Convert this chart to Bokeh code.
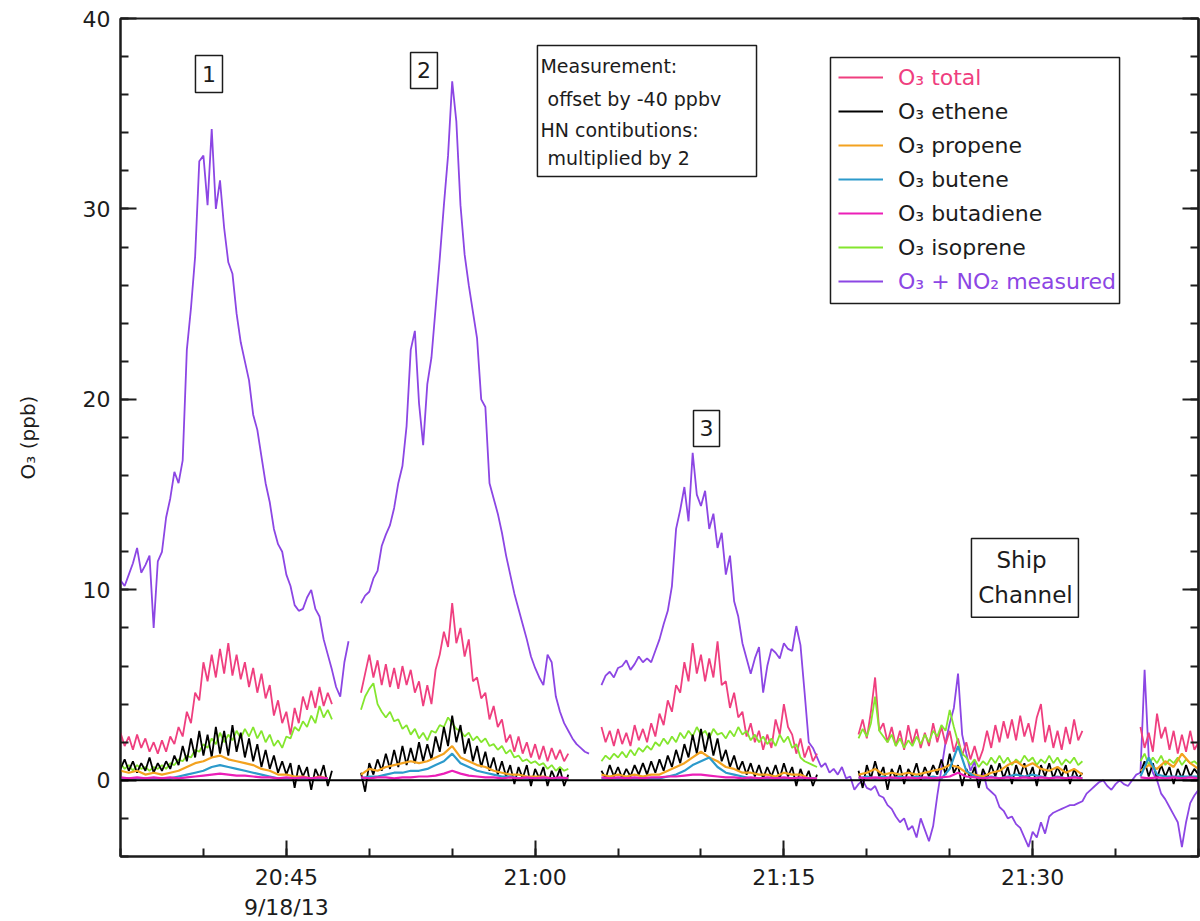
from datetime import datetime
from bokeh.plotting import figure
from bokeh.models import (Range1d, LinearAxis, FixedTicker, Legend, LegendItem,
                          BoxAnnotation, Label, Span)
from bokeh.embed import file_html
from bokeh.resources import INLINE

NaN = float("nan")

# ---------------- data ----------------
sample_start = datetime(2013, 9, 18, 20, 35, 0)
fast_step_s = 15     # O3+NO2 measured, O3 total, ethene, isoprene
slow_step_s = 30     # propene, butene, butadiene

# O3 + NO2 measured (offset by -40 ppbv), 15 s samples
o3_meas = ([10.5, 10.2, 10.8, 11.4, 12.2, 10.9, 11.3, 11.8, 8.0, 11.5, 12.0, 13.8, 14.8, 16.2,
            15.6, 16.8, 22.6, 24.8, 27.5, 32.5, 32.8, 30.2, 34.2, 30.0, 31.5, 29.0, 27.2, 26.6,
            24.5, 23.0, 22.0, 21.0, 19.2, 18.4, 17.0, 15.6, 14.6, 13.2, 12.4, 12.0, 10.8, 10.2,
            9.2, 8.9, 9.0, 9.6, 10.0, 9.0, 8.6, 7.4, 6.6, 5.8, 4.9, 4.4, 6.2, 7.3]
           + [NaN] * 2
           + [9.3, 9.7, 9.9, 10.6, 11.0, 12.3, 12.9, 13.4, 14.3, 15.6, 16.5, 18.6, 22.6, 23.6,
              19.8, 17.6, 20.8, 22.2, 24.8, 27.4, 30.2, 32.8, 36.7, 34.6, 30.2, 27.6, 26.0, 24.6,
              23.2, 20.0, 19.6, 15.6, 14.8, 14.0, 13.0, 11.8, 10.8, 9.8, 9.0, 8.2, 7.4, 6.5, 5.9,
              5.4, 5.0, 6.6, 6.2, 4.4, 3.6, 3.0, 2.6, 2.2, 1.9, 1.7, 1.5, 1.4]
           + [NaN] * 2
           + [5.0, 5.5, 5.7, 5.4, 5.9, 6.0, 6.3, 5.8, 6.1, 6.5, 6.2, 6.4, 6.2, 6.8, 7.4, 8.2, 8.9,
              10.2, 13.2, 14.2, 15.4, 13.6, 17.2, 15.0, 14.4, 15.2, 13.2, 14.0, 12.2, 13.0, 10.8,
              11.8, 9.4, 8.6, 7.2, 6.4, 5.6, 6.4, 7.0, 4.6, 6.0, 6.9, 6.7, 6.4, 7.2, 6.9, 6.8,
              8.1, 7.1, 4.6, 2.0, 1.7, 1.2, 0.7, 0.9, 0.4, 0.6, 0.3, 0.7, 0.1, 0.2, -0.5, -0.2,
              0.0, -0.4, -0.5, -0.3, -0.8, -0.9, -1.3, -1.5, -1.9, -2.2, -2.0, -2.6, -2.4, -3.0,
              -2.0, -2.6, -3.2, -2.4, -0.8, 0.6, 2.0, 3.0, 3.8, 5.6, 2.4, 1.4, 0.5, 1.0, -0.3,
              0.5, -0.4, -0.6, -0.8, -1.4, -1.6, -2.0, -1.9, -2.3, -2.5, -3.0, -3.5, -2.7, -3.0,
              -2.2, -2.8, -1.9, -1.7, -1.6, -1.5, -1.4, -1.3, -1.3, -1.2, -1.1, -0.7, -0.5, -0.3,
              -0.1, 0.0, -0.3, -0.5, -0.2, 0.0, -0.2, -0.3, 0.0, 0.3, 0.4, 5.8, 1.2, 0.4, 0.0,
              -0.7, -1.0, -1.4, -1.8, -2.2, -3.5, -2.2, -1.2, -0.8, -0.5])

# HN contributions (multiplied by 2), 15 s samples
o3_total = ([2.5, 1.8, 2.3, 1.6, 2.4, 1.7, 2.2, 1.5, 2.0, 1.4, 2.1, 1.5, 2.3, 1.9, 2.8, 2.3, 3.6,
             3.0, 4.6, 4.2, 6.2, 5.2, 6.6, 5.4, 6.9, 5.6, 7.2, 5.5, 6.6, 5.3, 6.2, 4.9, 5.9, 4.6,
             5.6, 4.3, 5.0, 3.4, 4.2, 3.0, 3.6, 2.4, 3.8, 3.0, 4.4, 3.7, 4.7, 3.8, 4.9, 3.9, 4.6,
             4.0]
            + [NaN] * 6
            + [4.6, 5.6, 6.6, 5.4, 6.3, 5.0, 6.1, 4.9, 5.9, 4.8, 6.0, 5.0, 5.8, 4.6, 5.2, 3.9, 5.0,
               4.0, 5.8, 6.6, 7.8, 7.0, 9.3, 7.2, 8.0, 6.5, 7.4, 5.2, 5.4, 4.3, 4.6, 3.2, 3.9, 2.8,
               3.2, 2.0, 2.4, 1.5, 2.3, 1.4, 2.0, 1.2, 1.9, 1.1, 1.8, 1.0, 1.7, 1.1, 1.6, 1.0, 1.4]
            + [NaN] * 7
            + [2.8, 2.0, 2.6, 1.8, 2.7, 1.9, 2.5, 1.8, 2.9, 2.1, 2.7, 2.0, 3.0, 2.3, 3.5, 2.9, 4.2,
               3.6, 5.0, 4.6, 6.2, 5.2, 7.2, 5.6, 6.6, 5.2, 6.4, 5.4, 7.3, 5.0, 5.2, 3.8, 4.6, 3.3,
               3.6, 2.3, 3.0, 2.0, 2.6, 1.6, 2.4, 1.7, 3.2, 2.4, 4.0, 2.8, 2.4, 1.4, 2.2, 1.2, 1.8,
               1.0, 1.4]
            + [NaN] * 9
            + [2.4, 3.2, 2.2, 3.6, 5.4, 2.6, 3.0, 2.0, 2.8, 1.8, 2.6, 1.6, 2.9, 1.9, 2.7, 1.7, 2.5,
               1.8, 3.0, 2.0, 2.8, 1.9, 2.6, 1.5, 2.2, 1.3, 2.0, 1.1, 1.8, 1.0, 1.6, 2.6, 1.7, 2.9,
               2.0, 3.1, 2.2, 3.2, 2.1, 3.4, 2.3, 3.0, 2.0, 3.3, 4.0, 2.0, 2.9, 1.7, 2.6, 1.6, 2.8,
               1.9, 3.2, 2.1, 2.6]
            + [NaN] * 13
            + [2.8, 1.7, 2.5, 1.5, 3.5, 2.2, 2.8, 1.6, 2.6, 1.4, 2.4, 1.5, 2.6, 1.6, 2.0])

o3_ethene = ([0.6, 1.1, 0.5, 1.0, 0.4, 0.9, 0.5, 1.2, 0.4, 0.9, 0.5, 1.0, 0.6, 1.3, 0.8, 1.8, 1.0,
              2.2, 1.2, 2.6, 1.3, 2.4, 1.2, 2.8, 1.4, 2.6, 1.3, 2.9, 1.5, 2.5, 1.2, 2.2, 1.0, 1.9,
              0.7, 1.6, 0.6, 1.3, 0.4, 1.0, 0.3, 0.9, -0.4, 0.8, 0.2, 0.7, -0.5, 0.6, 0.1, 0.8,
              -0.3, 0.5]
             + [NaN] * 6
             + [0.4, -0.6, 0.9, 0.3, 1.1, 0.5, 1.4, 0.6, 1.6, 0.7, 1.8, 0.8, 1.7, 0.9, 2.0, 1.0,
                1.9, 1.1, 2.3, 1.5, 2.8, 1.8, 3.4, 2.0, 2.9, 1.4, 2.2, 1.0, 1.8, 0.7, 1.5, 0.5, 1.2,
                0.3, 1.0, 0.2, 0.8, -0.2, 0.7, 0.1, 0.8, -0.3, 0.6, 0.1, 0.7, -0.3, 0.5, 0.0, 0.6,
                -0.3, 0.3]
             + [NaN] * 7
             + [0.5, 0.1, 0.8, 0.2, 0.7, 0.1, 0.6, 0.2, 0.8, 0.3, 0.9, 0.3, 1.0, 0.4, 1.1, 0.5,
                1.3, 0.7, 1.6, 0.9, 1.9, 1.2, 2.4, 1.4, 2.7, 1.5, 2.5, 1.3, 2.2, 1.0, 1.6, 0.7, 1.3,
                0.5, 1.0, 0.3, 0.9, 0.2, 0.8, 0.1, 0.7, 0.2, 0.8, 0.1, 0.9, 0.2, 0.7, -0.3, 0.6,
                0.0, 0.5, -0.3, 0.3]
             + [NaN] * 9
             + [0.5, -0.4, 0.8, 0.1, 1.0, 0.2, 0.7, -0.5, 0.6, 0.1, 0.8, -0.2, 0.6, 0.2, 0.9, 0.0,
                0.7, 0.2, 0.8, 0.3, 1.1, 0.3, 1.4, 0.4, 0.8, -0.3, 0.6, 0.1, 0.7, -0.4, 0.6, 0.1,
                0.8, 0.2, 0.9, 0.1, 0.7, -0.2, 0.8, 0.2, 0.9, 0.1, 0.7, -0.3, 0.8, 0.2, 0.9, 0.1,
                0.7, 0.2, 0.8, -0.2, 0.6, 0.1, 0.4]
             + [NaN] * 13
             + [0.4, 1.0, 0.2, 0.9, 0.1, 0.8, 0.2, 0.7, -0.2, 0.6, 0.1, 0.8, 0.2, 0.6, 0.3])

o3_isoprene = ([0.9, 0.6, 0.8, 0.5, 0.8, 0.6, 0.7, 0.5, 0.7, 0.6, 0.8, 0.6, 0.9, 0.8, 1.1, 1.0,
                1.3, 1.2, 1.6, 1.5, 1.9, 1.7, 2.2, 1.9, 2.5, 2.0, 2.4, 2.1, 2.6, 2.2, 2.7, 2.3,
                2.8, 2.2, 2.6, 2.0, 2.4, 1.8, 2.1, 1.7, 2.3, 2.2, 2.8, 2.6, 3.1, 2.8, 3.4, 3.0,
                3.9, 3.3, 3.7, 3.2]
               + [NaN] * 6
               + [3.7, 4.4, 4.8, 5.1, 4.0, 3.6, 3.3, 3.6, 3.1, 3.2, 2.7, 2.9, 2.4, 2.7, 2.2, 2.5,
                  2.1, 2.6, 2.5, 2.9, 2.8, 3.3, 3.0, 2.7, 2.6, 2.3, 2.5, 2.1, 2.3, 2.0, 2.2, 1.8,
                  1.9, 1.6, 1.8, 1.4, 1.6, 1.2, 1.3, 1.0, 1.1, 0.9, 1.0, 0.8, 0.9, 0.6, 0.8, 0.5,
                  0.7, 0.5, 0.6]
               + [NaN] * 7
               + [1.0, 1.3, 1.1, 1.4, 1.2, 1.5, 1.2, 1.6, 1.3, 1.7, 1.5, 1.8, 1.6, 2.0, 1.8, 2.2,
                  1.9, 2.3, 2.0, 2.5, 2.2, 2.6, 2.3, 2.8, 2.4, 2.6, 2.2, 2.7, 2.4, 2.5, 2.2, 2.6,
                  2.3, 2.8, 2.4, 2.6, 2.1, 2.4, 2.0, 2.3, 1.9, 2.2, 1.8, 2.4, 2.0, 2.3, 1.7, 1.9,
                  1.2, 1.0, 0.9, 0.8, 0.7]
               + [NaN] * 9
               + [2.2, 2.7, 2.3, 3.0, 4.4, 2.6, 2.3, 2.0, 2.4, 1.8, 2.2, 1.7, 2.1, 1.8, 2.3, 1.9,
                  2.4, 2.0, 2.6, 2.3, 2.9, 2.6, 3.7, 2.8, 2.0, 1.4, 1.2, 0.8, 1.1, 0.7, 1.0, 0.8,
                  1.2, 0.9, 1.3, 0.9, 1.2, 0.8, 1.1, 0.9, 1.3, 1.0, 1.2, 0.8, 1.1, 0.9, 1.3, 0.9,
                  1.2, 0.8, 1.1, 0.9, 1.2, 0.8, 1.0]
               + [NaN] * 13
               + [1.0, 1.4, 0.8, 1.2, 0.9, 1.3, 0.8, 1.1, 0.9, 1.2, 0.8, 1.1, 0.9, 1.0, 0.8])

# 30 s samples
o3_propene = ([0.5, 0.4, 0.5, 0.3, 0.4, 0.3, 0.4, 0.5, 0.7, 0.9, 1.0, 1.2, 1.3, 1.1, 1.0, 0.9, 0.8,
               0.6, 0.5, 0.3, 0.3, 0.2, 0.2, 0.1, 0.2, 0.1]
              + [NaN] * 3
              + [0.3, 0.6, 0.5, 0.7, 0.8, 0.9, 1.0, 0.9, 1.0, 1.2, 1.4, 1.8, 1.2, 1.0, 0.8, 0.7,
                 0.5, 0.4, 0.3, 0.3, 0.2, 0.2, 0.2, 0.1, 0.1, 0.1]
              + [NaN] * 3
              + [0.3, 0.2, 0.3, 0.2, 0.3, 0.2, 0.3, 0.3, 0.5, 0.7, 0.9, 1.2, 1.5, 1.2, 1.0, 0.7,
                 0.6, 0.4, 0.4, 0.3, 0.3, 0.2, 0.4, 0.3, 0.3, 0.1, 0.1]
              + [NaN] * 4
              + [0.3, 0.4, 0.6, 0.3, 0.4, 0.3, 0.4, 0.3, 0.4, 0.5, 0.6, 0.8, 0.7, 0.4, 0.3, 0.2,
                 0.4, 0.5, 0.8, 1.0, 0.7, 0.9, 0.6, 0.5, 0.7, 0.4, 0.6, 0.3]
              + [NaN] * 6
              + [0.5, 0.8, 0.6, 1.0, 0.7, 1.4, 0.9, 0.6])

o3_butene = ([0.1, 0.1, 0.1, 0.1, 0.1, 0.1, 0.1, 0.2, 0.3, 0.4, 0.5, 0.7, 0.8, 0.7, 0.6, 0.5, 0.4,
              0.3, 0.2, 0.1, 0.1, 0.1, 0.1, 0.1, 0.1, 0.1]
             + [NaN] * 3
             + [0.1, 0.2, 0.2, 0.3, 0.4, 0.4, 0.5, 0.5, 0.6, 0.8, 1.0, 1.4, 0.9, 0.7, 0.5, 0.4,
                0.3, 0.2, 0.2, 0.1, 0.1, 0.1, 0.1, 0.1, 0.1, 0.1]
             + [NaN] * 3
             + [0.1, 0.1, 0.1, 0.1, 0.1, 0.1, 0.1, 0.1, 0.2, 0.3, 0.5, 0.8, 1.0, 1.2, 0.7, 0.4,
                0.3, 0.2, 0.1, 0.1, 0.1, 0.1, 0.1, 0.1, 0.1, 0.1, 0.1]
             + [NaN] * 4
             + [0.1, 0.2, 0.1, 0.2, 0.1, 0.2, 0.1, 0.2, 0.1, 0.2, 0.1, 0.6, 1.8, 0.5, 0.2, 0.1,
                0.2, 0.1, 0.2, 0.3, 0.2, 0.3, 0.2, 0.1, 0.2, 0.1, 0.2, 0.1]
             + [NaN] * 6
             + [0.2, 1.2, 0.3, 0.2, 0.2, 0.2, 0.2, 0.2])

o3_butadiene = ([0.15, 0.1, 0.15, 0.1, 0.15, 0.1, 0.15, 0.1, 0.15, 0.2, 0.25, 0.3, 0.35, 0.3, 0.25,
                 0.25, 0.2, 0.15, 0.15, 0.1, 0.15, 0.1, 0.15, 0.1, 0.15, 0.1]
                + [NaN] * 3
                + [0.15, 0.1, 0.15, 0.15, 0.1, 0.15, 0.15, 0.2, 0.2, 0.25, 0.35, 0.5, 0.35, 0.25,
                   0.2, 0.15, 0.15, 0.1, 0.15, 0.1, 0.15, 0.1, 0.15, 0.1, 0.15, 0.1]
                + [NaN] * 3
                + [0.15, 0.1, 0.15, 0.1, 0.15, 0.1, 0.15, 0.15, 0.2, 0.2, 0.25, 0.3, 0.3, 0.25,
                   0.2, 0.15, 0.15, 0.1, 0.15, 0.1, 0.15, 0.1, 0.15, 0.1, 0.15, 0.1, 0.1]
                + [NaN] * 4
                + [0.15, 0.1, 0.15, 0.1, 0.15, 0.1, 0.15, 0.1, 0.15, 0.1, 0.15, 0.2, 0.4, 0.2,
                   0.15, 0.1, 0.15, 0.1, 0.15, 0.1, 0.15, 0.1, 0.15, 0.1, 0.15, 0.1, 0.15, 0.1]
                + [NaN] * 6
                + [0.15, 0.1, 0.15, 0.1, 0.15, 0.1, 0.15, 0.1])

series_names = ["O\u2083 total", "O\u2083 ethene", "O\u2083 propene", "O\u2083 butene",
                "O\u2083 butadiene", "O\u2083 isoprene", "O\u2083 + NO\u2082 measured"]
series_colors = ["#EF3F7F", "#000000", "#F3A21F", "#2C9ACB", "#EC1FB8", "#84E62E", "#8C46E4"]

# axes
x_start = datetime(2013, 9, 18, 20, 35)
x_end = datetime(2013, 9, 18, 21, 40)
y_start, y_end = -4, 40
x_major = [datetime(2013, 9, 18, 20, 45), datetime(2013, 9, 18, 21, 0),
           datetime(2013, 9, 18, 21, 15), datetime(2013, 9, 18, 21, 30)]
x_major_labels = ["20:45\n9/18/13", "21:00", "21:15", "21:30"]
x_minor_minutes = 5
y_major = [0, 10, 20, 30, 40]
y_minor_step = 2

# ---------------- build ----------------
EPOCH = datetime(1970, 1, 1)


def ms(dt):
    return (dt - EPOCH).total_seconds() * 1000.0


def at_min(minutes):
    """annotation position: minutes after the x-axis start"""
    return ms(x_start) + minutes * 60000.0


n_fast = len(o3_meas)
n_slow = len(o3_propene)
for s in (o3_total, o3_ethene, o3_isoprene):
    assert len(s) == n_fast
for s in (o3_butene, o3_butadiene):
    assert len(s) == n_slow
t_fast = [ms(sample_start) + i * fast_step_s * 1000.0 for i in range(n_fast)]
t_slow = [ms(sample_start) + i * slow_step_s * 1000.0 for i in range(n_slow)]

FONT = "DejaVu Sans"
INK = "#1c1c1c"

p = figure(frame_width=1078, frame_height=838,
           x_range=Range1d(ms(x_start), ms(x_end)), y_range=Range1d(y_start, y_end),
           x_axis_type="datetime", output_backend="svg", toolbar_location=None,
           min_border_left=120, min_border_right=2, min_border_top=18, min_border_bottom=65)
p.grid.visible = False
p.outline_line_color = INK
p.outline_line_width = 2
p.background_fill_color = "white"
p.border_fill_color = "white"

x_minor = []
m = ms(x_start)
while m <= ms(x_end) + 1:
    x_minor.append(m)
    m += x_minor_minutes * 60000.0
xt = [ms(d) for d in x_major]
p.xaxis.ticker = FixedTicker(ticks=xt, minor_ticks=x_minor)
p.xaxis.major_label_overrides = {v: lab for v, lab in zip(xt, x_major_labels)}
y_minor = list(range(y_start, y_end + 1, y_minor_step))
p.yaxis.ticker = FixedTicker(ticks=y_major, minor_ticks=y_minor)

for ax in (p.xaxis[0], p.yaxis[0]):
    ax.axis_line_width = 2
    ax.axis_line_color = INK
    ax.major_tick_in = 16
    ax.major_tick_out = 0
    ax.minor_tick_in = 8
    ax.minor_tick_out = 0
    ax.major_tick_line_width = 2
    ax.minor_tick_line_width = 2
    ax.major_tick_line_color = INK
    ax.minor_tick_line_color = INK
    ax.major_label_text_font = FONT
    ax.major_label_text_font_size = "22px"
    ax.major_label_text_color = INK

p.xaxis.major_label_standoff = 8
p.yaxis.major_label_standoff = 10
p.yaxis.axis_label = "O\u2083 (ppb)"
p.yaxis.axis_label_text_font = FONT
p.yaxis.axis_label_text_font_size = "20px"
p.yaxis.axis_label_text_font_style = "normal"
p.yaxis.axis_label_text_color = INK
p.yaxis.axis_label_standoff = 40

# mirrored ticks on the right side (no labels): one axis carries long ticks, one short ones
right_long = LinearAxis(ticker=FixedTicker(ticks=[], minor_ticks=y_major),
                        minor_tick_in=16, minor_tick_out=0, minor_tick_line_width=2,
                        minor_tick_line_color=INK, major_tick_in=0, major_tick_out=0,
                        axis_line_width=2, axis_line_color=INK, major_label_standoff=0)
right_short = LinearAxis(ticker=FixedTicker(ticks=[], minor_ticks=y_minor),
                         minor_tick_in=8, minor_tick_out=0, minor_tick_line_width=2,
                         minor_tick_line_color=INK, major_tick_in=0, major_tick_out=0,
                         axis_line_width=2, axis_line_color=INK, major_label_standoff=0)
p.add_layout(right_long, "right")
p.add_layout(right_short, "right")

# zero line
p.add_layout(Span(location=0, dimension="width", line_color="black", line_width=2))

# series
r_meas = p.line(t_fast, o3_meas, color=series_colors[6], line_width=1.8)
r_total = p.line(t_fast, o3_total, color=series_colors[0], line_width=1.8)
r_iso = p.line(t_fast, o3_isoprene, color=series_colors[5], line_width=1.8)
r_eth = p.line(t_fast, o3_ethene, color=series_colors[1], line_width=1.8)
r_pro = p.line(t_slow, o3_propene, color=series_colors[2], line_width=2.2)
r_but = p.line(t_slow, o3_butene, color=series_colors[3], line_width=2.2)
r_bud = p.line(t_slow, o3_butadiene, color=series_colors[4], line_width=2.2)


def make_legend(items, color, loc):
    lg = Legend(items=items, location=loc, padding=0, margin=0, spacing=0,
                glyph_width=45, glyph_height=34, label_height=34, label_standoff=15,
                label_text_font=FONT, label_text_font_size="22px", label_text_color=color,
                border_line_color=None, background_fill_alpha=0)
    p.add_layout(lg)


make_legend([LegendItem(label=series_names[0], renderers=[r_total])], series_colors[0], (718, 762))
make_legend([LegendItem(label=series_names[1], renderers=[r_eth]),
             LegendItem(label=series_names[2], renderers=[r_pro]),
             LegendItem(label=series_names[3], renderers=[r_but]),
             LegendItem(label=series_names[4], renderers=[r_bud]),
             LegendItem(label=series_names[5], renderers=[r_iso])], INK, (718, 592))
make_legend([LegendItem(label=series_names[6], renderers=[r_meas])], series_colors[6], (718, 558))


def box(l, r, tp, b):
    p.add_layout(BoxAnnotation(left=at_min(l), right=at_min(r), top=tp, bottom=b,
                               fill_color=None, line_color=INK, line_alpha=1.0,
                               line_width=1.5))


def label(x, y, text, size="22px", align="center"):
    p.add_layout(Label(x=at_min(x), y=y, text=text, text_align=align, text_baseline="middle",
                       text_font=FONT, text_font_size=size, text_color=INK))


# legend frame
box(42.81, 60.24, 37.95, 25.04)

# episode markers
box(4.52, 6.15, 38.06, 36.12)
label(5.34, 37.09, "1")
box(17.49, 19.11, 38.22, 36.33)
label(18.30, 37.27, "2")
box(34.55, 36.12, 19.42, 17.53)
label(35.33, 18.48, "3")

# note box
box(25.14, 38.35, 38.58, 31.71)
label(25.32, 37.48, "Measurement:", "19px", "left")
label(25.75, 35.75, "offset by -40 ppbv", "19px", "left")
label(25.32, 34.17, "HN contibutions:", "19px", "left")
label(25.75, 32.65, "multiplied by 2", "19px", "left")

# ship channel box
box(51.31, 57.76, 12.70, 8.56)
label(54.33, 11.55, "Ship", "23px")
label(54.57, 9.71, "Channel", "23px")

open("out.html", "w").write(file_html(p, INLINE))
